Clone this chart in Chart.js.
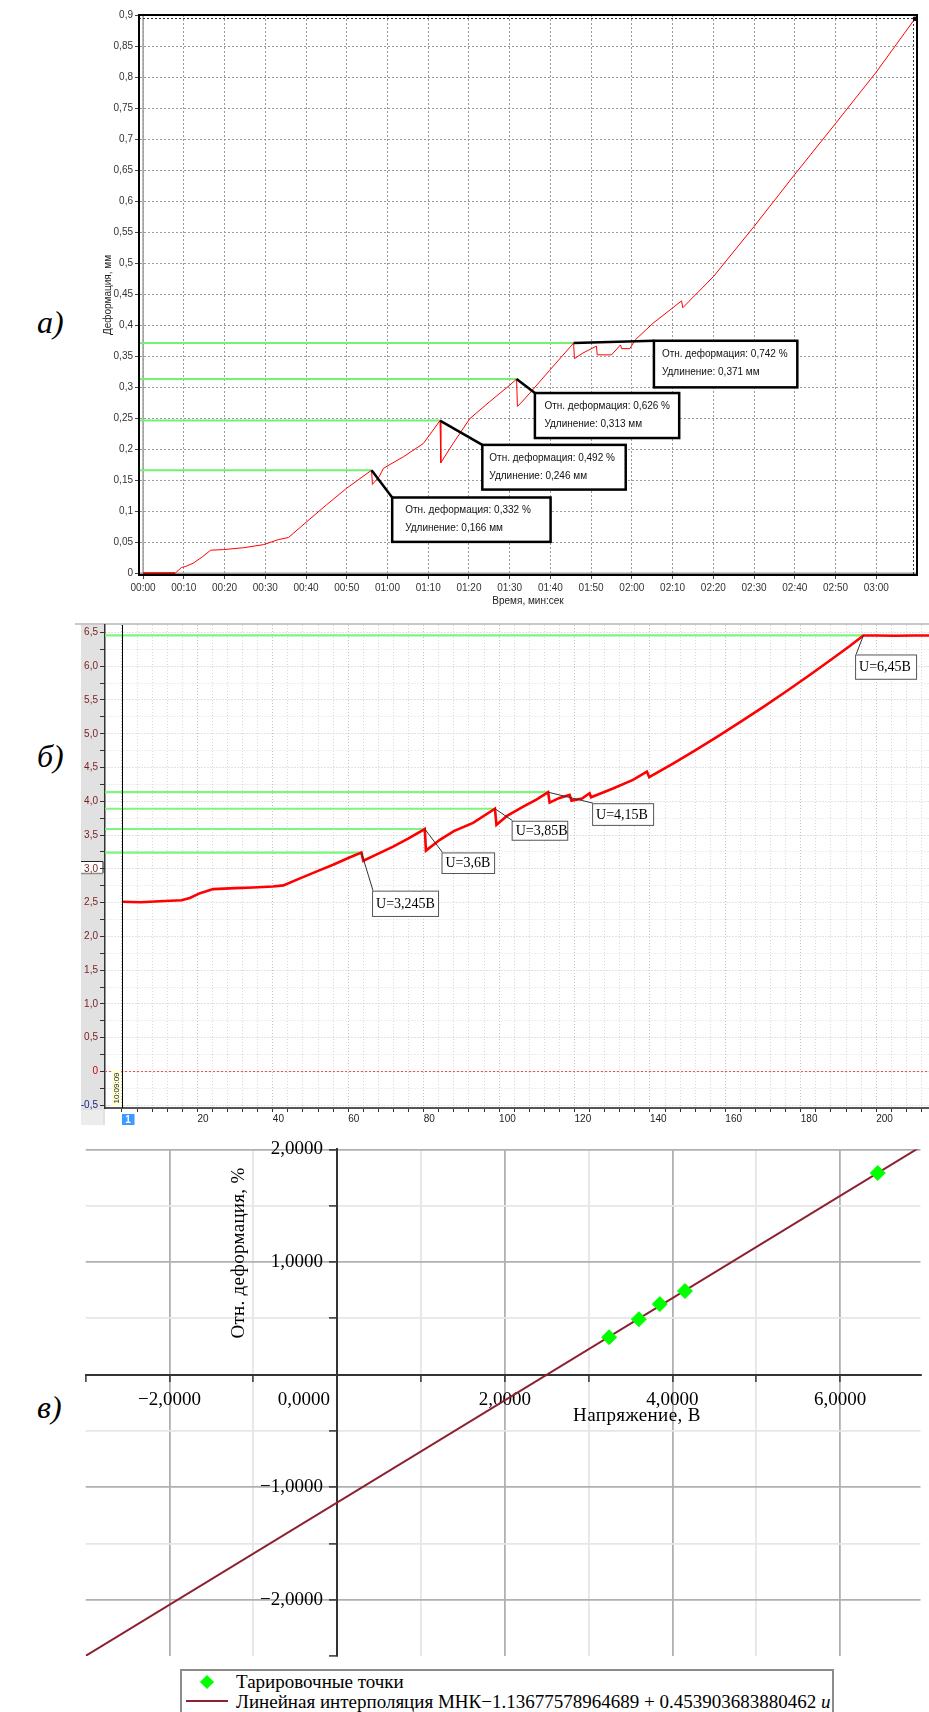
<!DOCTYPE html>
<html><head><meta charset="utf-8">
<script src="https://cdn.jsdelivr.net/npm/chart.js@4/dist/chart.umd.min.js"></script>
<style>
html,body{margin:0;padding:0;background:#fff;}
body{width:929px;height:1712px;position:relative;overflow:hidden;}
canvas{position:absolute;}
.lbl{position:absolute;font-family:"Liberation Serif","Times New Roman",serif;font-style:italic;font-size:32px;line-height:32px;color:#000;}
.ser{position:absolute;font-family:"Liberation Serif","Times New Roman",serif;font-size:19px;line-height:20px;color:#000;white-space:nowrap;}
</style></head><body>
<div class="lbl" style="left:37px;top:306px">а)</div>
<div class="lbl" style="left:37px;top:740px">б)</div>
<div class="lbl" style="left:37px;top:1391px">в)</div>
<canvas id="ca" width="839" height="610" style="left:90px;top:0"></canvas>
<canvas id="cb" width="854" height="513" style="left:75px;top:612px"></canvas>
<canvas id="cc" width="869" height="582" style="left:60px;top:1130px"></canvas>
<div class="ser" style="left:138px;top:1243px;width:200px;text-align:center;transform:rotate(-90deg);letter-spacing:0.3px">Отн. деформация, %</div>
<div class="ser" style="left:537px;top:1405px;width:200px;text-align:center;letter-spacing:0.4px">Напряжение, В</div>
<div id="legC" style="position:absolute;left:180px;top:1669px;width:650px;height:60px;border:2px solid #8c8c8c;background:#fff;">
  <div style="position:absolute;left:20px;top:5.5px;width:10px;height:10px;background:#00ff00;transform:rotate(45deg)"></div>
  <div class="ser" style="left:54px;top:1px">Тарировочные точки</div>
  <div style="position:absolute;left:4px;top:28.5px;width:42px;height:2.5px;background:#8b2131"></div>
  <div class="ser" id="leg2" style="left:54px;top:21px">Линейная интерполяция МНК−1.13677578964689 + 0.453903683880462 <i>u</i></div>
</div>
<script>
// ---------- Chart a: deformation vs time ----------
const aTime = [0,7.9,9.4,10.5,12.3,14.5,16.6,19.8,24.7,29.6,33.2,35.7,40.2,45,50,56.1,56.3,58,59,64,68.8,72.9,73.1,76,80.2,85,90,91.7,91.9,93,94.9,99.8,105.7,105.9,108,111.3,111.5,115,117.2,117.5,119.5,120.8,125.2,132.2,132.5,140,150,160,170,180,189.5];
const aDef = [0,0,0.009,0.011,0.016,0.026,0.037,0.038,0.041,0.046,0.054,0.0575,0.083,0.110,0.137,0.166,0.143,0.156,0.169,0.188,0.209,0.246,0.178,0.208,0.249,0.276,0.303,0.313,0.269,0.276,0.290,0.327,0.371,0.346,0.355,0.366,0.352,0.352,0.368,0.362,0.362,0.376,0.403,0.439,0.428,0.478,0.559,0.643,0.725,0.808,0.894];
const aPeakTime = [56.1,72.9,91.7,105.7];
const aPeakDef = [0.166,0.246,0.313,0.371];
const aStrainText = ['Отн. деформация: 0,332 %','Отн. деформация: 0,492 %','Отн. деформация: 0,626 %','Отн. деформация: 0,742 %'];
const aElongText = ['Удлинение: 0,166 мм','Удлинение: 0,246 мм','Удлинение: 0,313 мм','Удлинение: 0,371 мм'];
const aXTicks = [0,10,20,30,40,50,60,70,80,90,100,110,120,130,140,150,160,170,180];
const aYTicks = [0,0.05,0.1,0.15,0.2,0.25,0.3,0.35,0.4,0.45,0.5,0.55,0.6,0.65,0.7,0.75,0.8,0.85,0.9];

// ---------- Chart b: voltage vs time ----------
const bTime = [0,5,10,15.8,18,20.7,24.2,30,34.8,40,42.8,47.2,52,56,60,63.5,64,67,71.9,76,80.3,80.6,84.3,88,93.1,98.9,99.3,102,106.4,110,113,113.4,116,118.7,119.2,122,124,124.4,130.2,135.5,139.2,139.8,146,152,158,164,170,176,182,188,193,196.6,200,205,210,214];
const bVolt = [2.514,2.505,2.52,2.535,2.57,2.64,2.70,2.715,2.725,2.74,2.755,2.86,2.97,3.06,3.16,3.24,3.12,3.2,3.33,3.45,3.59,3.27,3.43,3.56,3.68,3.89,3.65,3.78,3.92,4.03,4.135,3.98,4.05,4.095,4.01,4.04,4.12,4.06,4.19,4.317,4.44,4.357,4.555,4.755,4.962,5.175,5.395,5.622,5.855,6.095,6.30,6.455,6.455,6.45,6.455,6.455];
const bPeakTime = [63.5,80.3,98.9,113.0,196.6];
const bPeakVolt = [3.24,3.59,3.89,4.135,6.455];
const bPeakText = ['U=3,245В','U=3,6В','U=3,85В','U=4,15В','U=6,45В'];
const bXTicks = [0,4,8,12,16,20,24,28,32,36,40,44,48,52,56,60,64,68,72,76,80,84,88,92,96,100,104,108,112,116,120,124,128,132,136,140,144,148,152,156,160,164,168,172,176,180,184,188,192,196,200,204,208,212];
const bYTicks = [-0.5,-0.25,0,0.25,0.5,0.75,1,1.25,1.5,1.75,2,2.25,2.5,2.75,3,3.25,3.5,3.75,4,4.25,4.5,4.75,5,5.25,5.5,5.75,6,6.25,6.5];
const bTimeStamp = '10:09:09';
const bChannel = '1';

// ---------- Chart c: calibration ----------
const cVolt = [3.245,3.6,3.85,4.15,6.45];
const cStrain = [0.332,0.492,0.626,0.742,1.79];
const cFitVolt = [-3,7];
const cFitStrain = [-2.4985,2.0405];
const cXTicks = [-3,-2,-1,0,1,2,3,4,5,6];
const cYTicks = [-2.5,-2,-1.5,-1,-0.5,0,0.5,1,1.5,2];
const cXLabelled = [-2,0,2,4,6];
const cYLabelled = [-2,-1,1,2];

// ---------- layout / style (pixels, not data) ----------
const aBoxLayout = [[20.6,27.3,158.4,44.4,13],[42.3,24.3,143.4,44.7,7],[18.3,14,144.3,45,9.5],[80.3,-2.3,143.4,46.6,8]];
const bBoxLayout = [[10.6,38,66,25.3],[16.7,23.4,52.6,20.6],[16.7,12,55.6,19],[44,11,61,21.7],[-8.3,19,61,24.3]];

const sans = '"Liberation Sans", Arial, sans-serif';
const serif = '"Liberation Serif", "Times New Roman", serif';
const pts = (xs, ys) => xs.map((x, i) => ({x, y: ys[i]}));
const fmtTime = v => String(Math.floor(v/60)).padStart(2,'0') + ':' + String(v%60).padStart(2,'0');
const fmtA = v => String(Math.round(v*100)/100).replace('.', ',');
const fmtB = v => v === 0 ? '0' : v.toFixed(1).replace('.', ',');
const fmtC = v => (v < 0 ? '−' : '') + Math.abs(v).toFixed(4).replace('.', ',');

const A_XMIN = -1, A_XMAX = 190, B_XMIN = -4.5, B_XMAX = 214;

// ---- plugin for chart a ----
const aPlugin = {
  id: 'aPlugin',
  beforeDatasetsDraw(chart) {
    const {ctx, chartArea: ca, scales: {x, y}} = chart;
    ctx.save();
    ctx.strokeStyle = '#9c9c9c'; ctx.lineWidth = 1.5;
    const x0 = x.getPixelForValue(0), y0 = y.getPixelForValue(0);
    ctx.beginPath(); ctx.moveTo(x0, ca.top); ctx.lineTo(x0, ca.bottom); ctx.stroke();
    ctx.beginPath(); ctx.moveTo(ca.left, y0); ctx.lineTo(ca.right, y0); ctx.stroke();
    ctx.strokeStyle = '#333'; ctx.lineWidth = 1; ctx.setLineDash([2, 2]);
    ctx.beginPath(); ctx.moveTo(ca.left, ca.top + 3.5); ctx.lineTo(ca.right - 3.5, ca.top + 3.5); ctx.lineTo(ca.right - 3.5, ca.bottom); ctx.stroke();
    ctx.restore();
  },
  afterDatasetsDraw(chart) {
    const {ctx, chartArea: ca, scales: {x, y}} = chart;
    ctx.save();
    ctx.strokeStyle = '#000'; ctx.lineWidth = 2;
    ctx.strokeRect(ca.left, ca.top, ca.right - ca.left, ca.bottom - ca.top);
    aPeakTime.forEach((t, i) => {
      const px = x.getPixelForValue(t), py = y.getPixelForValue(aPeakDef[i]);
      const [dx, dy, w, h, pad] = aBoxLayout[i];
      const bx = px + dx, by = py + dy;
      ctx.strokeStyle = '#000'; ctx.lineWidth = 2.5;
      ctx.beginPath(); ctx.moveTo(px, py); ctx.lineTo(bx, by); ctx.stroke();
      ctx.fillStyle = '#fff'; ctx.fillRect(bx, by, w, h);
      ctx.strokeRect(bx, by, w, h);
      ctx.fillStyle = '#111'; ctx.font = '10px ' + sans; ctx.textBaseline = 'middle'; ctx.textAlign = 'left';
      ctx.fillText(aStrainText[i], bx + pad, by + 13);
      ctx.fillText(aElongText[i], bx + pad, by + 31);
    });
    ctx.restore();
  }
};

new Chart(document.getElementById('ca'), {
  type: 'line',
  data: { datasets: [
    { data: pts(aTime, aDef), borderColor: '#ff0000', borderWidth: 1, tension: 0,
      pointRadius: c => c.dataIndex === aTime.length - 1 ? 2.2 : 0, pointStyle: 'rect',
      pointBackgroundColor: '#000', pointBorderColor: '#000',
      segment: { borderColor: c => c.p1DataIndex === 1 ? '#c40000' : '#ff0000', borderWidth: c => c.p1DataIndex === 1 ? 2 : 1 } },
    ...aPeakTime.map((t, i) => ({ data: [{x: A_XMIN, y: aPeakDef[i]}, {x: t, y: aPeakDef[i]}], borderColor: '#72f272', borderWidth: 2, pointRadius: 0 }))
  ]},
  options: {
    responsive: false, animation: false, devicePixelRatio: 1,
    layout: { padding: { top: 15, right: 12, left: 0, bottom: 0 } },
    plugins: { legend: { display: false }, tooltip: { enabled: false } },
    scales: {
      x: { type: 'linear', min: A_XMIN, max: A_XMAX,
        afterFit: s => { s.height = 35; },
        afterBuildTicks: s => { s.ticks = aXTicks.map(v => ({value: v})); },
        ticks: { callback: v => fmtTime(v), font: { family: sans, size: 10 }, color: '#333', padding: 3, autoSkip: false, maxRotation: 0 },
        grid: { color: '#9a9a9a', lineWidth: 1, tickLength: 4, tickColor: '#444' },
        border: { display: true, color: '#000', width: 2, dash: [2, 2] },
        title: { display: true, text: 'Время, мин:сек', font: { family: sans, size: 10 }, color: '#222', padding: { top: 0, bottom: 3 } } },
      y: { type: 'linear', min: -0.003, max: 0.9,
        afterFit: s => { s.width = 49; },
        afterBuildTicks: s => { s.ticks = aYTicks.map(v => ({value: v})); },
        ticks: { callback: v => fmtA(v), font: { family: sans, size: 10 }, color: '#333', padding: 2, autoSkip: false },
        grid: { color: '#9a9a9a', lineWidth: 1, tickLength: 4, tickColor: '#444' },
        border: { display: true, color: '#000', width: 2, dash: [2, 2] },
        title: { display: true, text: 'Деформация, мм', font: { family: sans, size: 10 }, color: '#222', padding: { top: 12, bottom: 0 } } }
    }
  },
  plugins: [aPlugin]
});

// ---- plugin for chart b ----
const bPlugin = {
  id: 'bPlugin',
  beforeDraw(chart) {
    const {ctx, chartArea: ca, width, height} = chart;
    ctx.save();
    ctx.fillStyle = '#e1e1e1';
    ctx.fillRect(6, ca.top, ca.left - 6, height - ca.top);
    ctx.fillStyle = '#fff'; ctx.fillRect(6, ca.top + 236, ca.left - 8, 12);
    ctx.strokeStyle = '#222'; ctx.lineWidth = 1;
    ctx.beginPath(); ctx.moveTo(6, ca.top + 236.5); ctx.lineTo(ca.left - 2, ca.top + 236.5); ctx.lineTo(ca.left - 2, ca.top + 248); ctx.stroke();
    ctx.strokeStyle = '#8a8a8a'; ctx.lineWidth = 1.5;
    ctx.beginPath(); ctx.moveTo(6, ca.top + 248.5); ctx.lineTo(ca.left - 2, ca.top + 248.5); ctx.stroke();
    ctx.fillStyle = '#ececec'; ctx.fillRect(6, ca.bottom + 2, ca.left - 8, height - ca.bottom - 2);
    ctx.strokeStyle = '#c8c8c8'; ctx.lineWidth = 2;
    ctx.beginPath(); ctx.moveTo(0, ca.top - 1); ctx.lineTo(width, ca.top - 1); ctx.stroke();
    ctx.restore();
  },
  afterDatasetsDraw(chart) {
    const {ctx, chartArea: ca, scales: {x, y}} = chart;
    ctx.save();
    const x0 = Math.round(x.getPixelForValue(0)) + 0.5;
    ctx.strokeStyle = '#000'; ctx.lineWidth = 1;
    ctx.beginPath(); ctx.moveTo(x0, ca.top); ctx.lineTo(x0, ca.bottom); ctx.stroke();
    bPeakTime.forEach((t, i) => {
      const px = x.getPixelForValue(t), py = y.getPixelForValue(bPeakVolt[i]);
      const [dx, dy, w, h] = bBoxLayout[i];
      const bx = px + dx, by = py + dy;
      ctx.strokeStyle = '#333'; ctx.lineWidth = 1;
      ctx.beginPath(); ctx.moveTo(px, py); ctx.lineTo(bx + 1, by); ctx.stroke();
      ctx.fillStyle = '#fff'; ctx.fillRect(bx, by, w, h);
      ctx.strokeStyle = '#555'; ctx.strokeRect(bx + 0.5, by + 0.5, w, h);
      ctx.fillStyle = '#000'; ctx.font = '14px ' + serif; ctx.textBaseline = 'middle'; ctx.textAlign = 'left';
      ctx.fillText(bPeakText[i], bx + 4, by + h / 2 + 1);
    });
    ctx.save();
    ctx.translate(x0 - 6, ca.bottom - 20);
    ctx.rotate(-Math.PI / 2);
    ctx.fillStyle = '#ffffd8'; ctx.fillRect(-18, -4.5, 36, 9);
    ctx.fillStyle = '#222'; ctx.font = '8px ' + sans; ctx.textAlign = 'center'; ctx.textBaseline = 'middle';
    ctx.fillText(bTimeStamp, 0, 0.5);
    ctx.restore();
    ctx.fillStyle = '#3d9bff'; ctx.fillRect(x0 - 0.5, ca.bottom + 6, 12.5, 11);
    ctx.fillStyle = '#fff'; ctx.font = 'bold 10px ' + sans; ctx.textAlign = 'center'; ctx.textBaseline = 'middle';
    ctx.fillText(bChannel, x0 + 5.5, ca.bottom + 12);
    ctx.restore();
  }
};

const bMajorX = v => v % 20 === 0;
const bMajorY = v => Number.isInteger(v * 2);
new Chart(document.getElementById('cb'), {
  type: 'line',
  data: { datasets: [
    { data: pts(bTime, bVolt), borderColor: '#ff0000', borderWidth: 2.6, pointRadius: 0, tension: 0 },
    ...bPeakTime.map((t, i) => ({ data: [{x: B_XMIN, y: bPeakVolt[i]}, {x: t, y: bPeakVolt[i]}], borderColor: '#7cf67c', borderWidth: 2.2, pointRadius: 0 })),
    { data: [{x: B_XMIN, y: 0}, {x: B_XMAX, y: 0}], borderColor: '#ff4a4a', borderWidth: 1, borderDash: [2, 2], pointRadius: 0 }
  ]},
  options: {
    responsive: false, animation: false, devicePixelRatio: 1,
    layout: { padding: { top: 13, right: 0, left: 0, bottom: 0 } },
    plugins: { legend: { display: false }, tooltip: { enabled: false } },
    scales: {
      x: { type: 'linear', min: B_XMIN, max: B_XMAX,
        afterFit: s => { s.height = 17; },
        afterBuildTicks: s => { s.ticks = bXTicks.map(v => ({value: v})); },
        ticks: { callback: v => (v > 0 && bMajorX(v)) ? String(v) : '', align: 'start', padding: 1, font: { family: sans, size: 10 }, color: '#222', autoSkip: false, maxRotation: 0 },
        grid: { color: c => (c.tick && bMajorX(c.tick.value)) ? '#c2c2c2' : '#d8d8d8', lineWidth: 1, tickLength: 4, tickColor: '#333' },
        border: { display: true, color: '#555', width: 2, dash: [1, 2] } },
      y: { type: 'linear', min: -0.54, max: 6.61,
        afterFit: s => { s.width = 30; },
        afterBuildTicks: s => { s.ticks = bYTicks.map(v => ({value: v})); },
        ticks: { callback: v => bMajorY(v) ? fmtB(v) : '', padding: 2, font: { family: sans, size: 10 }, autoSkip: false,
          color: c => c.tick.value < 0 ? '#1a1a8c' : (c.tick.value === 0 ? '#d00000' : '#7a1c1c') },
        grid: { color: c => (c.tick && bMajorY(c.tick.value)) ? '#c6c6c6' : '#dcdcdc', lineWidth: 1, tickLength: 5, tickColor: '#333' },
        border: { display: true, color: '#333', width: 1.5, dash: [1, 2] } }
    }
  },
  plugins: [bPlugin]
});

// ---------- chart c ----------
new Chart(document.getElementById('cc'), {
  type: 'line',
  data: { datasets: [
    { type: 'scatter', data: pts(cVolt, cStrain), pointStyle: 'rectRot', pointRadius: 7.5, backgroundColor: '#00ff00', borderColor: '#00ff00', borderWidth: 1, showLine: false },
    { data: pts(cFitVolt, cFitStrain), borderColor: '#8b2131', borderWidth: 2, pointRadius: 0, tension: 0 }
  ]},
  options: {
    responsive: false, animation: false, devicePixelRatio: 1,
    layout: { padding: { top: 12.7, right: 0, left: 25.7, bottom: 56 } },
    plugins: { legend: { display: false }, tooltip: { enabled: false } },
    scales: {
      x: { type: 'linear', position: { y: 0 }, min: -3, max: 6.96,
        afterFit: s => { s.height = 0; },
        afterBuildTicks: s => { s.ticks = cXTicks.map(v => ({value: v})); },
        ticks: { callback: v => !cXLabelled.includes(v) ? '' : (v === 0 ? fmtC(v) + '\u2002\u2002\u2002\u2002\u2002\u2002\u2002' : fmtC(v)),
          font: { family: serif, size: 19 }, color: '#000', padding: 8, autoSkip: false, maxRotation: 0 },
        grid: { color: c => !c.tick || c.tick.value === -3 ? 'rgba(0,0,0,0)' : (c.tick.value % 2 === 0 ? '#b0b0b0' : '#e6e6e6'), lineWidth: 1.8, tickLength: 6, tickColor: '#333', tickWidth: 1.5 },
        border: { display: true, color: '#333', width: 2 } },
      y: { type: 'linear', position: { x: 0 }, min: -2.5, max: 2.0,
        afterFit: s => { s.width = 0; },
        afterBuildTicks: s => { s.ticks = cYTicks.map(v => ({value: v})); },
        ticks: { callback: v => cYLabelled.includes(v) ? fmtC(v) + '\u2002 ' : '',
          font: { family: serif, size: 19 }, color: '#000', padding: 8, autoSkip: false },
        grid: { color: c => !c.tick || c.tick.value === -2.5 ? 'rgba(0,0,0,0)' : (Number.isInteger(c.tick.value) ? '#b0b0b0' : '#e6e6e6'), lineWidth: 1.8, tickLength: 7, tickColor: '#333', tickWidth: 1.5 },
        border: { display: true, color: '#333', width: 2 } }
    }
  }
});
</script>
</body></html>
